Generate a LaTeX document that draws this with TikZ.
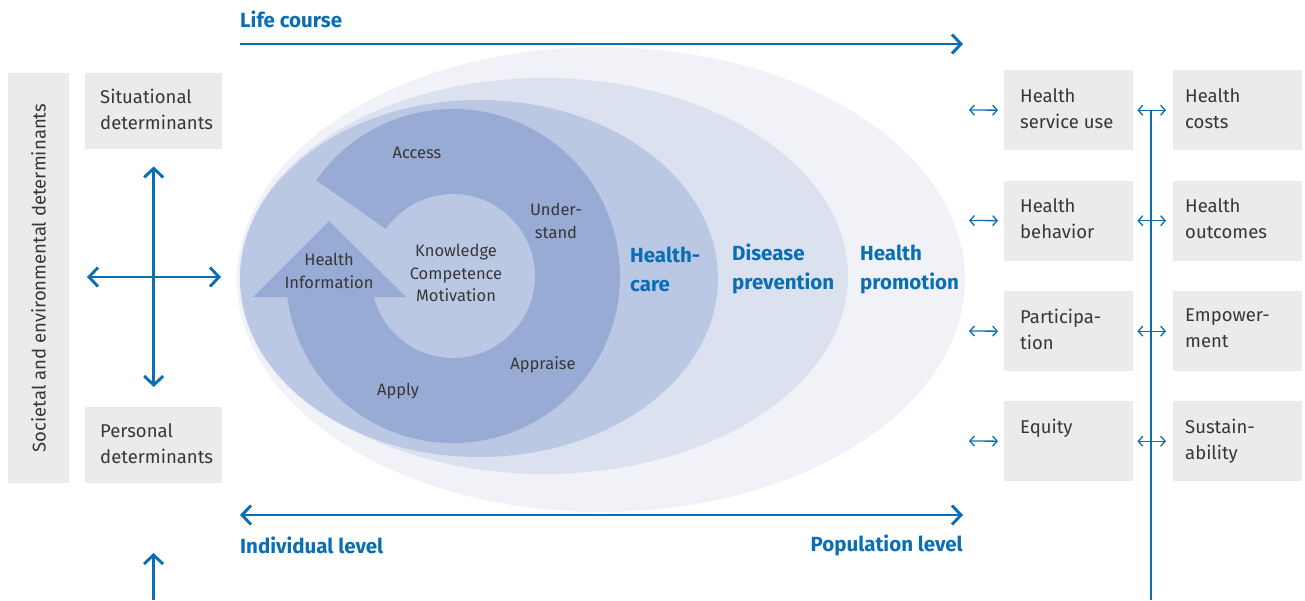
\documentclass[tikz,border=0pt]{standalone}
\usepackage{fontspec}
\setmainfont{Fira Sans}
\usetikzlibrary{arrows.meta,calc}

\definecolor{hblue}{RGB}{10,110,180}
\definecolor{boxgray}{RGB}{235,235,235}
\definecolor{txtgray}{RGB}{55,55,55}
\definecolor{promocol}{RGB}{241,242,248}
\definecolor{prevcol}{RGB}{220,225,240}
\definecolor{carecol}{RGB}{186,200,227}
\definecolor{cyclecol}{RGB}{151,171,212}

\tikzset{
  detbox/.style={fill=boxgray, inner sep=0pt, minimum width=129pt, minimum height=80pt, anchor=north west},
  leftbox/.style={detbox, minimum width=137pt, minimum height=76pt},
  boxtext/.style={font=\fontsize{18.5}{26}\selectfont, text=txtgray, align=left, inner sep=0pt, anchor=north west},
  cyctext/.style={font=\fontsize{16.5}{22.5}\selectfont, text=txtgray, align=center, inner sep=0pt},
  bluelabel/.style={font=\fontsize{20.5}{29}\selectfont\bfseries, text=hblue, align=left, inner sep=0pt},
  bigbarb/.tip={Straight Barb[length=9pt,width=19pt]},
  smallbarb/.tip={Straight Barb[length=4.5pt,width=10pt]},
  bigarrow/.style={draw=hblue, line width=2.9pt},
  smallarrow/.style={draw=hblue, line width=1.3pt, smallbarb-smallbarb}
}

\begin{document}
\begin{tikzpicture}[x=1pt, y=-1pt]
  \useasboundingbox (0,0) rectangle (1305,600);

  % nested fields
  \fill[promocol] (601,279.5) ellipse[x radius=364pt, y radius=232.5pt];
  \fill[prevcol] (544,276) ellipse[x radius=304pt, y radius=198pt];
  \fill[carecol] (479,278.5) ellipse[x radius=239pt, y radius=178.5pt];

  % health literacy cycle
  \coordinate (ctr) at (453,276);
  \fill[cyclecol] ($(ctr)+(145:167pt)$) arc[start angle=145, end angle=-172.78, radius=167pt]
    -- ($(ctr)+(-165.17:82pt)$) arc[start angle=-165.17, end angle=145, radius=82pt] -- cycle;
  \fill[cyclecol] (253,297) -- (406,297) -- (329,221) -- cycle;

  \node[cyctext] (access) at (417,153) {Access};
  \node[cyctext] (understand) at (556,221) {Under-\\stand};
  \node[cyctext] (appraise) at (543,365) {Appraise};
  \node[cyctext] (apply) at (398,391) {Apply};
  \node[cyctext] (info) at (329,271) {Health\\Information};
  \node[cyctext] (kcm) at (456,273) {Knowledge\\Competence\\Motivation};

  \node[bluelabel, anchor=west] (care) at (630,269) {Health-\\care};
  \node[bluelabel, anchor=west] (prev) at (732,269) {Disease\\prevention};
  \node[bluelabel, anchor=west] (promo) at (860,269) {Health\\promotion};

  % life course and levels
  \node[bluelabel, anchor=west] (life) at (240,19) {Life course};
  \coordinate (lifea) at (240,44);
  \coordinate (lifeb) at (963,44);
  \draw[bigarrow, -bigbarb] (lifea) -- (lifeb);

  \coordinate (levela) at (240,515);
  \coordinate (levelb) at (963,515);
  \draw[bigarrow, bigbarb-bigbarb] (levela) -- (levelb);
  \node[bluelabel, anchor=west] (indiv) at (240,545) {Individual level};
  \node[bluelabel, anchor=east] (popul) at (963,545) {Population level};

  % determinants
  \node[fill=boxgray, inner sep=0pt, minimum width=410pt, minimum height=61pt, rotate=90,
    font=\fontsize{18.5}{26}\selectfont, text=txtgray] (societal) at (38.5,278) {Societal and environmental determinants};
  \node[leftbox] (situ) at (85,73) {};
  \node[boxtext] (situt) at ([shift={(15pt,-16pt)}]situ.north west) {Situational\\determinants};
  \node[leftbox] (pers) at (85,407) {};
  \node[boxtext] (perst) at ([shift={(15pt,-16pt)}]pers.north west) {Personal\\determinants};

  \draw[bigarrow, bigbarb-bigbarb, shorten <=17pt, shorten >=20pt] (situ.south) -- (pers.north);
  \coordinate (crossl) at (87,277);
  \coordinate (crossr) at (221,277);
  \draw[bigarrow, bigbarb-bigbarb] (crossl) -- (crossr);
  \coordinate (persa) at (153.5,600);
  \coordinate (persb) at (153.5,553);
  \draw[bigarrow, -bigbarb] (persa) -- (persb);

  % outcomes
  \node[detbox] (use) at (1004,70) {};
  \node[boxtext] (uset) at ([shift={(16pt,-18pt)}]use.north west) {Health\\service use};
  \node[detbox] (behav) at (1004,180.5) {};
  \node[boxtext] (behavt) at ([shift={(16pt,-18pt)}]behav.north west) {Health\\behavior};
  \node[detbox] (partic) at (1004,291) {};
  \node[boxtext] (partict) at ([shift={(16pt,-18pt)}]partic.north west) {Participa-\\tion};
  \node[detbox] (equity) at (1004,401) {};
  \node[boxtext] (equityt) at ([shift={(16pt,-18pt)}]equity.north west) {Equity};

  \node[detbox] (costs) at (1173,70) {};
  \node[boxtext] (costst) at ([shift={(12pt,-18pt)}]costs.north west) {Health\\costs};
  \node[detbox] (outc) at (1173,180.5) {};
  \node[boxtext] (outct) at ([shift={(12pt,-18pt)}]outc.north west) {Health\\outcomes};
  \node[detbox] (empow) at (1173,291) {};
  \node[boxtext] (empowt) at ([shift={(12pt,-18pt)}]empow.north west) {Empower-\\ment};
  \node[detbox] (sust) at (1173,401) {};
  \node[boxtext] (sustt) at ([shift={(12pt,-18pt)}]sust.north west) {Sustain-\\ability};

  \coordinate (usea) at (969,110);
  \coordinate (behava) at (969,220.5);
  \coordinate (partica) at (969,331);
  \coordinate (equitya) at (969,441);
  \draw[smallarrow, shorten >=6pt] (usea) -- (use.west);
  \draw[smallarrow, shorten >=6pt] (behava) -- (behav.west);
  \draw[smallarrow, shorten >=6pt] (partica) -- (partic.west);
  \draw[smallarrow, shorten >=6pt] (equitya) -- (equity.west);

  \coordinate (spinea) at (1151,110);
  \coordinate (spineb) at (1151,600);
  \draw[hblue, line width=2.9pt] (spinea) -- (spineb);
  \draw[smallarrow, shorten <=4pt, shorten >=7pt] (use.east) -- (costs.west);
  \draw[smallarrow, shorten <=4pt, shorten >=7pt] (behav.east) -- (outc.west);
  \draw[smallarrow, shorten <=4pt, shorten >=7pt] (partic.east) -- (empow.west);
  \draw[smallarrow, shorten <=4pt, shorten >=7pt] (equity.east) -- (sust.west);
\end{tikzpicture}
\end{document}
